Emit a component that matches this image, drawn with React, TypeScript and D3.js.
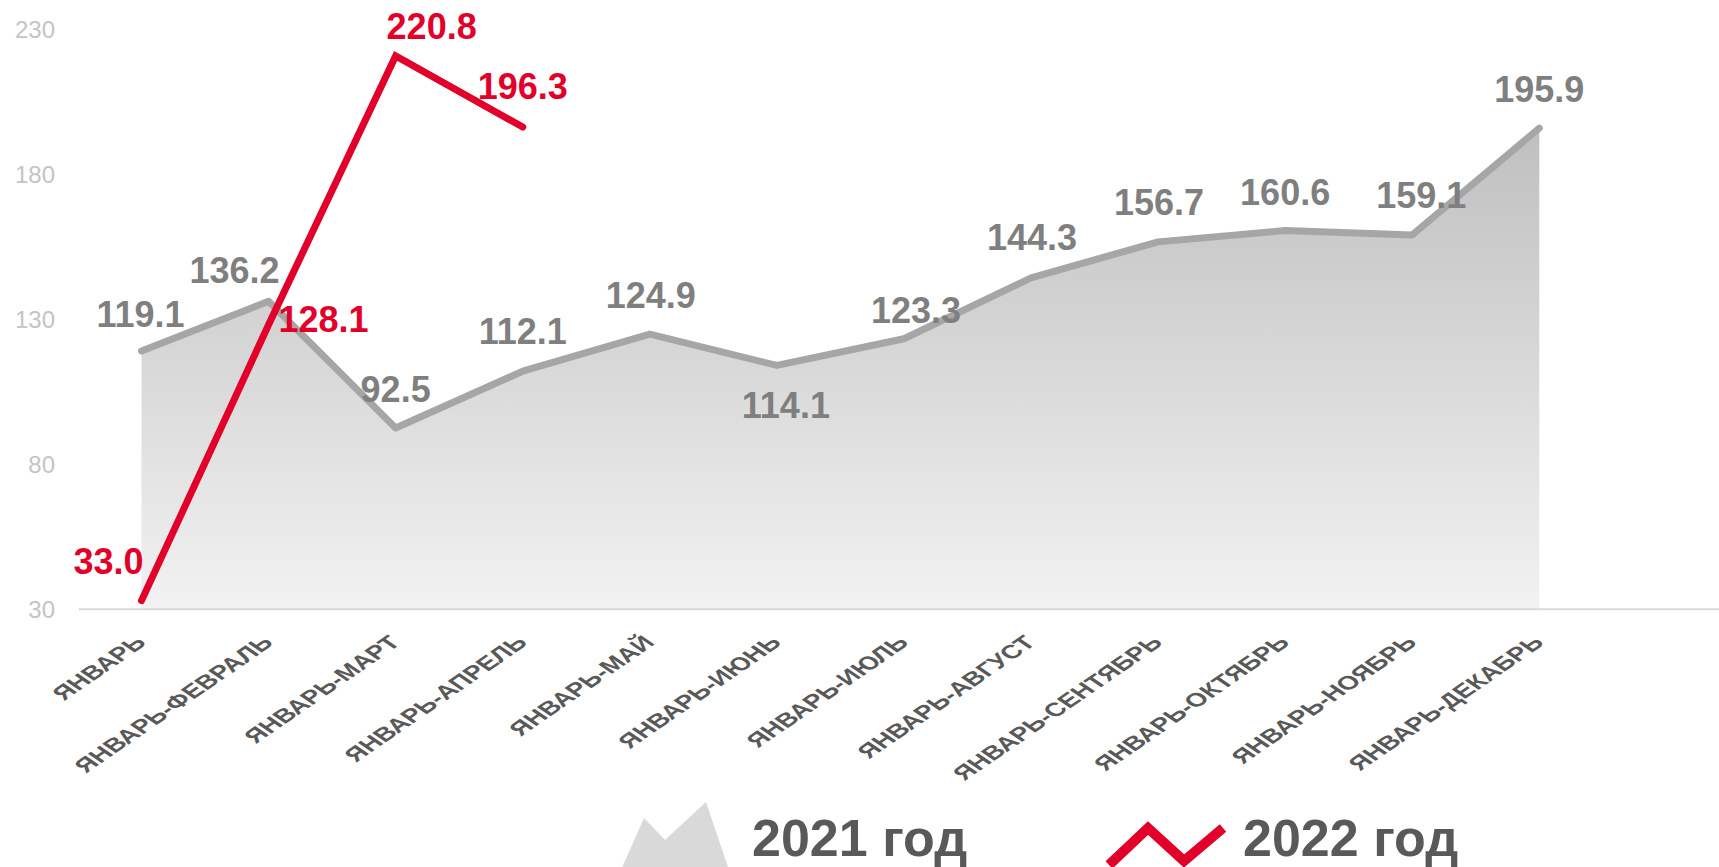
import React, { useEffect, useRef } from 'react';
import * as d3 from 'd3';

const categories = [
    'ЯНВАРЬ', 'ЯНВАРЬ-ФЕВРАЛЬ', 'ЯНВАРЬ-МАРТ', 'ЯНВАРЬ-АПРЕЛЬ', 'ЯНВАРЬ-МАЙ', 'ЯНВАРЬ-ИЮНЬ',
    'ЯНВАРЬ-ИЮЛЬ', 'ЯНВАРЬ-АВГУСТ', 'ЯНВАРЬ-СЕНТЯБРЬ', 'ЯНВАРЬ-ОКТЯБРЬ', 'ЯНВАРЬ-НОЯБРЬ', 'ЯНВАРЬ-ДЕКАБРЬ',
];
const values2021 = [119.1, 136.2, 92.5, 112.1, 124.9, 114.1, 123.3, 144.3, 156.7, 160.6, 159.1, 195.9];
const values2022 = [33.0, 128.1, 220.8, 196.3];
const yTicks = [30, 80, 130, 180, 230];
const legendLabels = ['2021 год', '2022 год'];

// label nudges (dx, dy) from each point, the source chart places them by hand
const nudge2021: [number, number][] = [
    [-1, -37], [-34, -31], [0, -39], [0, -40], [1, -39], [9, 40],
    [12, -28], [1, -40], [1, -39], [0, -38], [9, -40], [0, -39],
];
const nudge2022: [number, number][] = [[-33, -39], [55, -5], [36, -30], [0, -41]];

const W = 1719;
const H = 867;
const GREY_LINE = '#a6a6a6';
const GREY_TEXT = '#7f7f7f';
const RED = '#e2002a';
const DARK = '#595959';

const Chart: React.FC = () => {
    const ref = useRef<SVGSVGElement>(null);

    useEffect(() => {
        if (!ref.current) return;
        const svg = d3.select(ref.current);
        svg.selectAll('*').remove();

        const x = d3.scalePoint<string>().domain(categories).range([141.5, 1539.3]);
        const y = d3.scaleLinear().domain([30, 230]).range([609.3, 29.3]);

        const defs = svg.append('defs');
        const grad = defs.append('linearGradient')
            .attr('id', 'areaFill')
            .attr('gradientUnits', 'userSpaceOnUse')
            .attr('x1', 0).attr('x2', 0)
            .attr('y1', y(200)).attr('y2', y(30));
        grad.append('stop').attr('offset', '0%').attr('stop-color', '#bebebe');
        grad.append('stop').attr('offset', '100%').attr('stop-color', '#f2f2f2');

        const font = '"Liberation Sans", Arial, sans-serif';

        // y tick labels
        svg.append('g')
            .selectAll('text')
            .data(yTicks)
            .join('text')
            .attr('x', 55)
            .attr('y', d => y(d))
            .attr('dy', '0.35em')
            .attr('text-anchor', 'end')
            .attr('font-family', font)
            .attr('font-size', 24)
            .attr('fill', '#c4c4c4')
            .text(d => d);

        // 2021 area + line
        const pts2021 = values2021.map((v, i) => ({ c: categories[i], v }));
        const area = d3.area<{ c: string; v: number }>()
            .x(d => x(d.c) as number)
            .y0(y(30))
            .y1(d => y(d.v));
        svg.append('path').datum(pts2021).attr('d', area).attr('fill', 'url(#areaFill)');

        // baseline
        svg.append('line')
            .attr('x1', 79).attr('x2', W)
            .attr('y1', y(30)).attr('y2', y(30))
            .attr('stroke', '#d9d9d9').attr('stroke-width', 2);

        const line = d3.line<{ c: string; v: number }>()
            .x(d => x(d.c) as number)
            .y(d => y(d.v));
        svg.append('path').datum(pts2021).attr('d', line)
            .attr('fill', 'none').attr('stroke', GREY_LINE).attr('stroke-width', 7)
            .attr('stroke-linejoin', 'round').attr('stroke-linecap', 'round');

        // 2022 line
        const pts2022 = values2022.map((v, i) => ({ c: categories[i], v }));
        svg.append('path').datum(pts2022).attr('d', line)
            .attr('fill', 'none').attr('stroke', RED).attr('stroke-width', 7)
            .attr('stroke-linejoin', 'miter').attr('stroke-linecap', 'round');

        // value labels
        svg.append('g')
            .selectAll('text')
            .data(pts2021)
            .join('text')
            .attr('x', (d, i) => (x(d.c) as number) + nudge2021[i][0])
            .attr('y', (d, i) => y(d.v) + nudge2021[i][1])
            .attr('dy', '0.35em')
            .attr('text-anchor', 'middle')
            .attr('font-family', font)
            .attr('font-weight', 'bold')
            .attr('font-size', 36)
            .attr('fill', GREY_TEXT)
            .text(d => d.v.toFixed(1));

        svg.append('g')
            .selectAll('text')
            .data(pts2022)
            .join('text')
            .attr('x', (d, i) => (x(d.c) as number) + nudge2022[i][0])
            .attr('y', (d, i) => y(d.v) + nudge2022[i][1])
            .attr('dy', '0.35em')
            .attr('text-anchor', 'middle')
            .attr('font-family', font)
            .attr('font-weight', 'bold')
            .attr('font-size', 36)
            .attr('fill', RED)
            .text(d => d.v.toFixed(1));

        // category labels, slanted like the stretched original
        svg.append('g')
            .selectAll('text')
            .data(categories)
            .join('text')
            .attr('transform', d => `translate(${(x(d) as number) - 1},639) scale(1.45,1) rotate(-45)`)
            .attr('dy', '0.35em')
            .attr('text-anchor', 'end')
            .attr('font-family', font)
            .attr('font-weight', 'bold')
            .attr('font-size', 19.3)
            .attr('fill', DARK)
            .text(d => d);

        // legend
        const lg = svg.append('g');
        lg.append('polygon')
            .attr('points', '621,870 644,818 665,840 706,802 729,870')
            .attr('fill', '#d9d9d9');
        lg.append('text')
            .attr('x', 752).attr('y', 856)
            .attr('font-family', font).attr('font-weight', 'bold').attr('font-size', 52)
            .attr('fill', DARK)
            .text(legendLabels[0]);
        lg.append('polyline')
            .attr('points', '1109,865 1148,828 1184,861 1223,828')
            .attr('fill', 'none').attr('stroke', RED).attr('stroke-width', 10);
        lg.append('text')
            .attr('x', 1243).attr('y', 856)
            .attr('font-family', font).attr('font-weight', 'bold').attr('font-size', 52)
            .attr('fill', DARK)
            .text(legendLabels[1]);
    }, []);

    return <svg ref={ref} width={W} height={H} style={{ display: 'block' }} />;
};

export default function App() {
    return (
        <div style={{ position: 'absolute', left: 0, top: 0, width: W, height: H, overflow: 'hidden', background: '#fff' }}>
            <Chart />
        </div>
    );
}
